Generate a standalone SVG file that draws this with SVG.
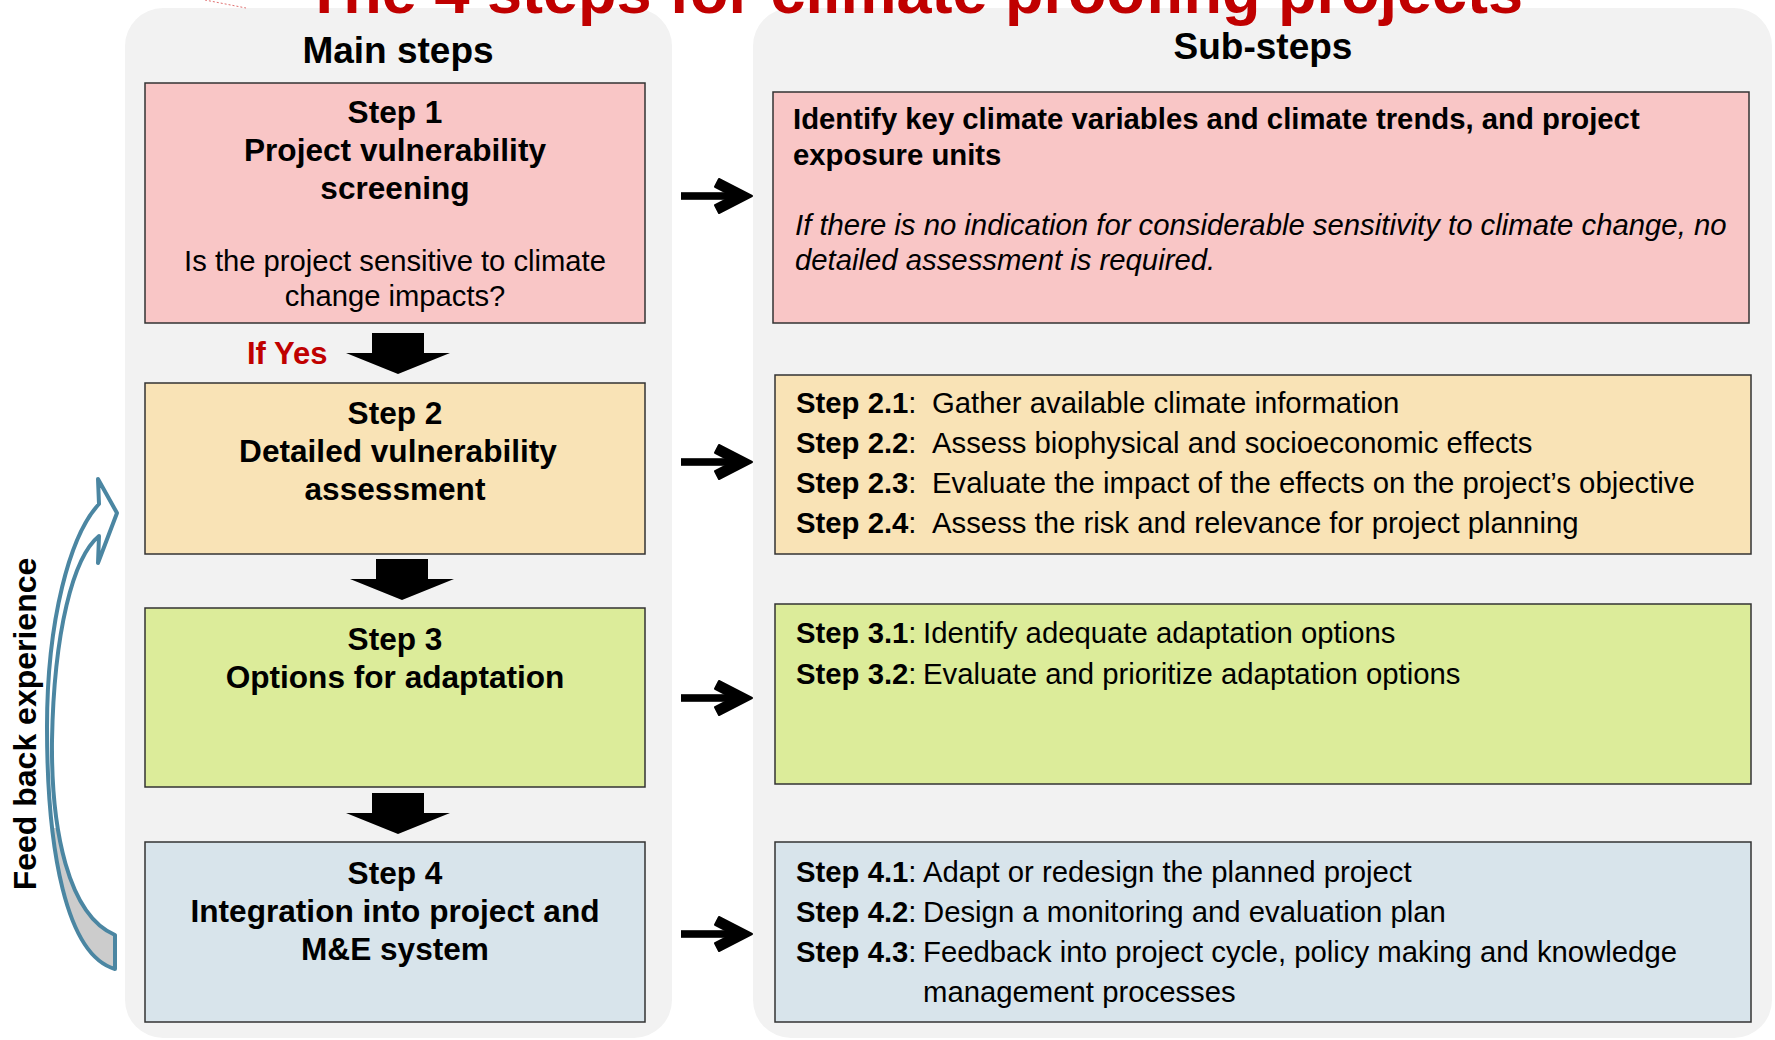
<svg xmlns="http://www.w3.org/2000/svg" width="1775" height="1040" viewBox="0 0 1775 1040">
  <style>
    text { font-family: "Liberation Sans", Arial, sans-serif; fill: #000; }
    .panel { fill: #f2f2f2; }
    .box { stroke: #333; stroke-width: 1.5; }
    .s1 { fill: #f9c6c6; }
    .s2 { fill: #f9e3b6; }
    .s3 { fill: #dcec9a; }
    .s4 { fill: #d8e4eb; }
    .head { font-size: 37px; font-weight: bold; text-anchor: middle; }
    .title { font-size: 63px; font-weight: bold; text-anchor: middle; fill: #c00000; }
    .main { font-size: 31.6px; font-weight: bold; text-anchor: middle; }
    .q { font-size: 29.2px; text-anchor: middle; }
    .sub { font-size: 29.3px; }
    .b { font-weight: bold; }
    .it { font-style: italic; }
    .red { fill: #c00000; font-size: 31px; font-weight: bold; }
  </style>
  <defs>
    <!-- block arrow pointing down, origin at top centre of the shaft -->
    <polygon id="downArrow" points="-26,0 26,0 26,20 52,20 0,41 -52,20 -26,20" fill="#000"/>
    <!-- bold right arrow, origin at left end of the shaft -->
    <g id="rightArrow">
      <rect x="0" y="-3.8" width="58" height="7.6" fill="#000"/>
      <polygon points="71,0 38,-17 34,-9.2 52,0 34,9.2 38,17" fill="#000" stroke="#000" stroke-width="2" stroke-linejoin="round"/>
    </g>
    <clipPath id="backFace">
      <rect x="0" y="828" width="140" height="160"/>
    </clipPath>
  </defs>

  <rect width="1775" height="1040" fill="#fff"/>

  <!-- background panels -->
  <rect class="panel" x="125" y="8" width="547" height="1030" rx="38"/>
  <rect class="panel" x="753" y="8" width="1019" height="1030" rx="38"/>
  <line x1="205" y1="0" x2="246" y2="8" stroke="#e07070" stroke-width="1" stroke-dasharray="2 2"/>

  <text class="title" x="914" y="13">The 4 steps for climate proofing projects</text>
  <text class="head" x="398" y="63">Main steps</text>
  <text class="head" x="1263" y="59">Sub-steps</text>

  <!-- main steps -->
  <g id="step1">
    <rect class="box s1" x="145" y="83" width="500" height="240"/>
    <text class="main" x="395" y="123">Step 1</text>
    <text class="main" x="395" y="161">Project vulnerability</text>
    <text class="main" x="395" y="199">screening</text>
    <text class="q" x="395" y="271">Is the project sensitive to climate</text>
    <text class="q" x="395" y="306">change impacts?</text>
  </g>
  <g id="step2">
    <rect class="box s2" x="145" y="383" width="500" height="171"/>
    <text class="main" x="395" y="424">Step 2</text>
    <text class="main" x="398" y="462">Detailed vulnerability</text>
    <text class="main" x="395" y="500">assessment</text>
  </g>
  <g id="step3">
    <rect class="box s3" x="145" y="608" width="500" height="179"/>
    <text class="main" x="395" y="650">Step 3</text>
    <text class="main" x="395" y="688">Options for adaptation</text>
  </g>
  <g id="step4">
    <rect class="box s4" x="145" y="842" width="500" height="180"/>
    <text class="main" x="395" y="884">Step 4</text>
    <text class="main" x="395" y="922">Integration into project and</text>
    <text class="main" x="395" y="960">M&amp;E system</text>
  </g>

  <!-- sub-steps -->
  <g id="sub1">
    <rect class="box s1" x="773" y="92" width="976" height="231"/>
    <text class="sub b" x="793" y="129">Identify key climate variables and climate trends, and project</text>
    <text class="sub b" x="793" y="165">exposure units</text>
    <text class="sub it" x="795" y="235">If there is no indication for considerable sensitivity to climate change, no</text>
    <text class="sub it" x="795" y="270">detailed assessment is required.</text>
  </g>
  <g id="sub2">
    <rect class="box s2" x="775" y="375" width="976" height="179"/>
    <text class="sub" x="796" y="413"><tspan class="b">Step 2.1</tspan>:<tspan x="932">Gather available climate information</tspan></text>
    <text class="sub" x="796" y="453"><tspan class="b">Step 2.2</tspan>:<tspan x="932">Assess biophysical and socioeconomic effects</tspan></text>
    <text class="sub" x="796" y="493"><tspan class="b">Step 2.3</tspan>:<tspan x="932">Evaluate the impact of the effects on the project’s objective</tspan></text>
    <text class="sub" x="796" y="533"><tspan class="b">Step 2.4</tspan>:<tspan x="932">Assess the risk and relevance for project planning</tspan></text>
  </g>
  <g id="sub3">
    <rect class="box s3" x="775" y="604" width="976" height="180"/>
    <text class="sub" x="796" y="643"><tspan class="b">Step 3.1</tspan>:<tspan x="923">Identify adequate adaptation options</tspan></text>
    <text class="sub" x="796" y="684"><tspan class="b">Step 3.2</tspan>:<tspan x="923">Evaluate and prioritize adaptation options</tspan></text>
  </g>
  <g id="sub4">
    <rect class="box s4" x="775" y="842" width="976" height="180"/>
    <text class="sub" x="796" y="882"><tspan class="b">Step 4.1</tspan>:<tspan x="923">Adapt or redesign the planned project</tspan></text>
    <text class="sub" x="796" y="922"><tspan class="b">Step 4.2</tspan>:<tspan x="923">Design a monitoring and evaluation plan</tspan></text>
    <text class="sub" x="796" y="962"><tspan class="b">Step 4.3</tspan>:<tspan x="923">Feedback into project cycle, policy making and knowledge</tspan></text>
    <text class="sub" x="923" y="1002">management processes</text>
  </g>

  <!-- connectors -->
  <g id="connectors">
    <use href="#downArrow" x="398" y="333"/>
    <use href="#downArrow" x="402" y="559"/>
    <use href="#downArrow" x="398" y="793"/>
    <text class="red" x="247" y="364">If Yes</text>

    <use href="#rightArrow" x="681" y="196"/>
    <use href="#rightArrow" x="681" y="462"/>
    <use href="#rightArrow" x="681" y="698"/>
    <use href="#rightArrow" x="681" y="934"/>

    <!-- curved feedback arrow from step 4 back up to step 2 -->
    <g id="feedback">
      <path d="M99,504 L98,479 L117,513 L98,563 L99,536 C73,557 54,632 52,740 C51,830 68,915 115,935 L115,969 C66,955 47,850 47,727 C47,620 70,535 99,504 Z" fill="#fff"/>
      <path d="M99,504 L98,479 L117,513 L98,563 L99,536 C73,557 54,632 52,740 C51,830 68,915 115,935 L115,969 C66,955 47,850 47,727 C47,620 70,535 99,504 Z" fill="#cccccc" clip-path="url(#backFace)"/>
      <path d="M99,504 L98,479 L117,513 L98,563 L99,536 C73,557 54,632 52,740 C51,830 68,915 115,935 L115,969 C66,955 47,850 47,727 C47,620 70,535 99,504 Z" fill="none" stroke="#4b86a2" stroke-width="4" stroke-linejoin="round"/>
    </g>
    <text transform="translate(36,724) rotate(-90)" font-size="32" font-weight="bold" text-anchor="middle">Feed back experience</text>
  </g>
</svg>
